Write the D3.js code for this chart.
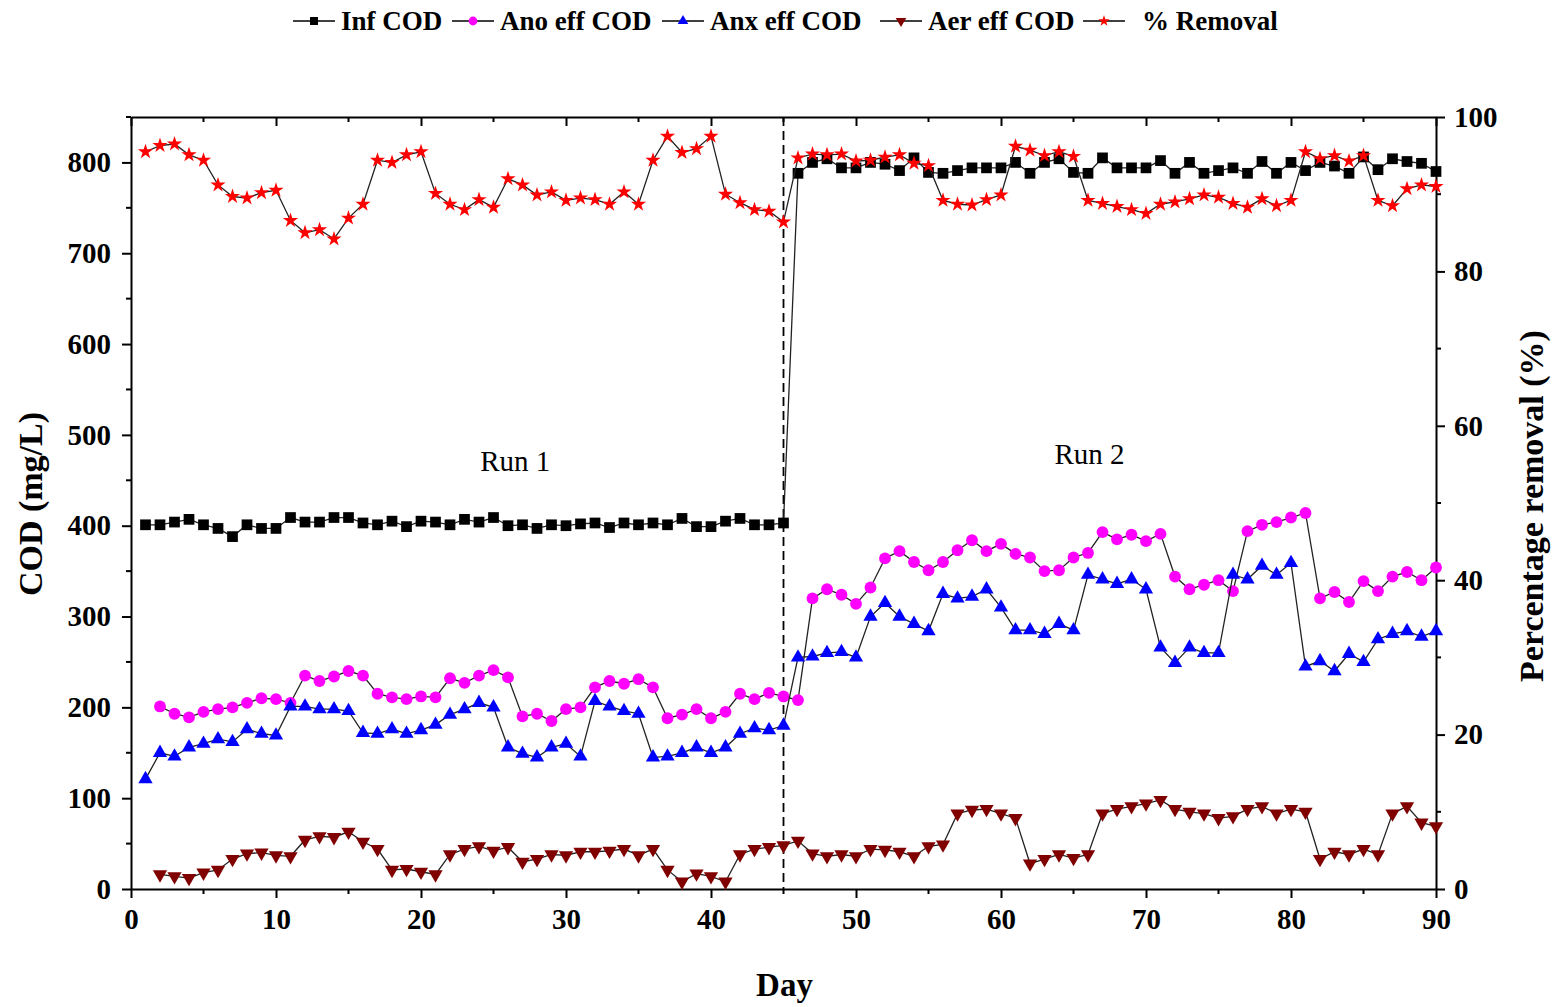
<!DOCTYPE html>
<html>
<head>
<meta charset="utf-8">
<script src="https://cdn.jsdelivr.net/npm/d3@7"></script>
<style>
  html, body { margin: 0; padding: 0; background: #fff; }
  svg { display: block; font-family: "Liberation Serif", "Times New Roman", serif; }
</style>
</head>
<body>
<svg id="chart" width="1555" height="1007"></svg>
<script>
// Daily COD (mg/L) for each stream, days 1-90
const days = d3.range(1, 91);

const infCOD = [
  401, 401, 404, 407, 401, 397, 388, 401, 397, 397,
  409, 404, 404, 409, 409, 403, 401, 405, 399, 405,
  404, 401, 407, 404, 409, 400, 401, 397, 401, 400,
  402, 403, 398, 403, 401, 403, 401, 408, 399, 399,
  405, 408, 401, 401, 403, 788, 800, 804, 794, 794,
  800, 798, 791, 805, 789, 788, 791, 794, 794, 794,
  800, 788, 800, 804, 789, 788, 805, 794, 794, 794,
  802, 788, 800, 788, 791, 794, 788, 801, 788, 800,
  791, 800, 796, 788, 806, 792, 804, 801, 799, 790
];

// effluent streams start on day 2 (null = no sample)
const anoEffCOD = [
  null, 201, 193, 189, 195, 198, 200, 205, 210, 209,
  205, 235, 229, 234, 240, 235, 215, 211, 209, 212,
  211, 232, 227, 235, 241, 233, 190, 193, 185, 198,
  200, 222, 229, 226, 231, 222, 188, 192, 198, 188,
  195, 215, 209, 216, 212, 208, 320, 330, 324, 314,
  332, 364, 372, 360, 351, 360, 373, 384, 372, 380,
  369, 365, 350, 351, 365, 370, 393, 385, 390, 383,
  391, 344, 330, 335, 340, 328, 394, 401, 404, 409,
  414, 320, 327, 316, 339, 328, 344, 349, 340, 354
];

const anxEffCOD = [
  121, 150, 146, 156, 160, 165, 162, 176, 171, 169,
  201, 201, 198, 198, 196, 172, 171, 176, 171, 175,
  181, 192, 198, 205, 200, 156, 149, 145, 156, 160,
  146, 207, 201, 196, 193, 145, 146, 150, 156, 150,
  156, 171, 177, 175, 180, 255, 256, 260, 261, 255,
  300, 315, 300, 292, 284, 325, 320, 322, 330, 310,
  285, 285, 281, 292, 285, 346, 341, 336, 341, 330,
  266, 249, 266, 260, 260, 346, 341, 356, 346, 359,
  245, 251, 240, 259, 250, 275, 281, 284, 278, 284
];

const aerEffCOD = [
  null, 16, 14, 12, 18, 21, 33, 39, 40, 37,
  36, 54, 58, 57, 63, 52, 44, 21, 22, 19,
  16, 38, 44, 47, 42, 46, 30, 33, 38, 37,
  41, 41, 42, 44, 37, 44, 21, 8, 17, 14,
  8, 38, 44, 46, 48, 53, 39, 36, 38, 36,
  44, 43, 41, 36, 47, 49, 83, 87, 88, 83,
  78, 28, 33, 38, 34, 38, 83, 88, 91, 94,
  98, 88, 85, 83, 78, 80, 88, 91, 83, 88,
  85, 33, 41, 38, 44, 38, 83, 91, 73, 69
];

// overall removal efficiency (%), right axis
const removal = [
  95.5, 96.3, 96.5, 95.1, 94.4, 91.2, 89.7, 89.5, 90.2, 90.5,
  86.6, 85.0, 85.4, 84.2, 86.9, 88.7, 94.4, 94.1, 95.1, 95.5,
  90.1, 88.7, 88.0, 89.3, 88.3, 92.0, 91.2, 89.9, 90.3, 89.2,
  89.5, 89.3, 88.7, 90.3, 88.7, 94.4, 97.5, 95.4, 95.9, 97.5,
  90.0, 88.9, 88.0, 87.8, 86.4, 94.7, 95.2, 95.1, 95.2, 94.3,
  94.4, 94.8, 95.1, 94.0, 93.7, 89.2, 88.7, 88.6, 89.3, 89.9,
  96.2, 95.7, 95.0, 95.5, 94.9, 89.2, 88.8, 88.4, 88.0, 87.5,
  88.7, 89.0, 89.4, 89.9, 89.6, 88.8, 88.3, 89.4, 88.5, 89.2,
  95.5, 94.6, 95.0, 94.3, 95.0, 89.2, 88.5, 90.7, 91.2, 91.0
];

const seriesNames = ["Inf COD", "Ano eff COD", "Anx eff COD", "Aer eff COD", "% Removal"];
const xTicks = d3.range(0, 91, 10);
const yLeftTicks = d3.range(0, 801, 100);
const yRightTicks = d3.range(0, 101, 20);
const runDivider = 45;
const runLabels = [{ text: "Run 1", day: 26.5, cod: 460 }, { text: "Run 2", day: 66.1, cod: 468 }];

const svg = d3.select("#chart");
const L = 131, R = 1436, T = 117, B = 889;

const x = d3.scaleLinear().domain([0, 90]).range([L, R]);
const y = d3.scaleLinear().domain([0, 850]).range([B, T]);
const yR = d3.scaleLinear().domain([0, 100]).range([B, T]);

const tickFont = "29px";

// ---- axes ----
function styleAxis(g) {
  g.selectAll(".domain").attr("stroke", "#000").attr("stroke-width", 2);
  g.selectAll(".tick line").attr("stroke", "#000").attr("stroke-width", 2);
  g.selectAll("text").attr("font-family", "Liberation Serif, serif")
    .attr("font-weight", "bold").attr("font-size", tickFont).attr("fill", "#000");
}

// minor ticks
const xMinor = d3.range(5, 90, 10);
const yMinor = d3.range(50, 851, 100);
const yRMinor = d3.range(10, 100, 20);

// bottom
const gB = svg.append("g").attr("transform", `translate(0,${B})`)
  .call(d3.axisBottom(x).tickValues(xTicks).tickSize(9).tickPadding(10).tickSizeOuter(0));
styleAxis(gB);
gB.selectAll(".minor").data(xMinor).join("line")
  .attr("x1", d => x(d)).attr("x2", d => x(d)).attr("y1", 0).attr("y2", 5)
  .attr("stroke", "#000").attr("stroke-width", 2);

// top (ticks pointing inward)
const gT = svg.append("g").attr("transform", `translate(0,${T})`)
  .call(d3.axisBottom(x).tickValues(xTicks).tickSize(9).tickFormat("").tickSizeOuter(0));
styleAxis(gT);
gT.selectAll(".minor").data(xMinor).join("line")
  .attr("x1", d => x(d)).attr("x2", d => x(d)).attr("y1", 0).attr("y2", 5)
  .attr("stroke", "#000").attr("stroke-width", 2);

// left
const gL = svg.append("g").attr("transform", `translate(${L},0)`)
  .call(d3.axisLeft(y).tickValues(yLeftTicks).tickSize(9).tickPadding(11).tickSizeOuter(0));
styleAxis(gL);
gL.selectAll(".minor").data(yMinor).join("line")
  .attr("x1", 0).attr("x2", -5).attr("y1", d => y(d)).attr("y2", d => y(d))
  .attr("stroke", "#000").attr("stroke-width", 2);

// right
const gR = svg.append("g").attr("transform", `translate(${R},0)`)
  .call(d3.axisRight(yR).tickValues(yRightTicks).tickSize(9).tickPadding(9).tickSizeOuter(0));
styleAxis(gR);
gR.selectAll(".minor").data(yRMinor).join("line")
  .attr("x1", 0).attr("x2", 5).attr("y1", d => yR(d)).attr("y2", d => yR(d))
  .attr("stroke", "#000").attr("stroke-width", 2);

// axis titles
svg.append("text").attr("x", (L + R) / 2 + 1).attr("y", 996)
  .attr("text-anchor", "middle").attr("font-weight", "bold").attr("font-size", "33px")
  .text("Day");
svg.append("text").attr("transform", `translate(42,${(T + B) / 2 + 1}) rotate(-90)`)
  .attr("text-anchor", "middle").attr("font-weight", "bold").attr("font-size", "34px")
  .text("COD (mg/L)");
svg.append("text").attr("transform", `translate(1543,${(T + B) / 2 + 3}) rotate(-90)`)
  .attr("text-anchor", "middle").attr("font-weight", "bold").attr("font-size", "34px")
  .text("Percentage removal (%)");

// run divider
svg.append("line").attr("x1", x(runDivider)).attr("x2", x(runDivider))
  .attr("y1", T).attr("y2", B).attr("stroke", "#000").attr("stroke-width", 1.8)
  .attr("stroke-dasharray", "9,5");

// run labels
runLabels.forEach(r => {
  svg.append("text").attr("x", x(r.day)).attr("y", y(r.cod))
    .attr("text-anchor", "middle").attr("font-size", "29px").text(r.text);
});

// ---- series ----
const series = [
  { name: seriesNames[0], values: infCOD, scale: y, color: "#000000", sym: d3.symbolSquare, size: 115, rot: 0 },
  { name: seriesNames[1], values: anoEffCOD, scale: y, color: "#FF00FF", sym: d3.symbolCircle, size: 110, rot: 0 },
  { name: seriesNames[2], values: anxEffCOD, scale: y, color: "#0000FF", sym: d3.symbolTriangle, size: 88, rot: 0 },
  { name: seriesNames[3], values: aerEffCOD, scale: y, color: "#800000", sym: d3.symbolTriangle, size: 88, rot: 180 },
  { name: seriesNames[4], values: removal, scale: yR, color: "#FF0000", sym: d3.symbolStar, size: 72, rot: 0 }
];

series.forEach(s => {
  const pts = days.map((d, i) => ({ day: d, v: s.values[i] })).filter(p => p.v != null);
  const line = d3.line().x(p => x(p.day)).y(p => s.scale(p.v));
  const g = svg.append("g");
  g.append("path").datum(pts).attr("d", line)
    .attr("fill", "none").attr("stroke", "#222").attr("stroke-width", 1.3);
  g.selectAll("path.m").data(pts).join("path").attr("class", "m")
    .attr("d", d3.symbol().type(s.sym).size(s.size))
    .attr("transform", p => `translate(${x(p.day)},${s.scale(p.v)}) rotate(${s.rot})`)
    .attr("fill", s.color);
});

// ---- legend ----
const legendX = [293, 452, 662, 880, 1083];
const legendY = 21;
series.forEach((s, i) => {
  const lx = legendX[i];
  svg.append("line").attr("x1", lx).attr("x2", lx + 42).attr("y1", legendY).attr("y2", legendY)
    .attr("stroke", "#000").attr("stroke-width", 1.6);
  svg.append("path").attr("d", d3.symbol().type(s.sym).size(s.size * 0.55))
    .attr("transform", `translate(${lx + 21},${legendY}) rotate(${s.rot})`)
    .attr("fill", s.color);
  svg.append("text").attr("x", lx + (i === 4 ? 59 : 48)).attr("y", legendY + 9)
    .attr("font-weight", "bold").attr("font-size", "27px").text(s.name);
});
</script>
</body>
</html>
